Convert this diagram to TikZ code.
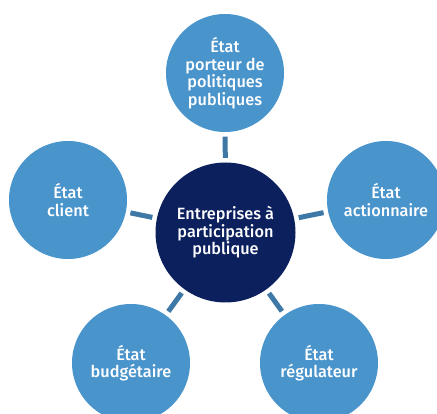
\documentclass[tikz,border=0pt]{standalone}
\usepackage{fontspec}
\setmainfont{Fira Sans Medium}
\definecolor{outerblue}{HTML}{4A94CC}
\definecolor{navy}{HTML}{0C205E}
\definecolor{connblue}{HTML}{3D78A6}
\begin{document}
\begin{tikzpicture}[x=1pt,y=-1pt,
  outer/.style={circle,fill=outerblue,minimum size=118pt,inner sep=0pt,text=white,align=center,font=\fontsize{16.3}{17.5}\selectfont},
  inner/.style={circle,fill=navy,minimum size=140pt,inner sep=0pt,text=white,align=center,font=\fontsize{16.3}{17.5}\selectfont},
  conn/.style={draw=connblue,line width=5pt,shorten <=4.5pt,shorten >=4.5pt}]
\useasboundingbox (0,0) rectangle (437,414);
\clip (0,0) rectangle (437,414);
\node[inner] (c) at (225.5,232.5) {Entreprises à\\participation\\publique};
\node[outer] (t) at (225,73) {État\\porteur de\\politiques\\publiques};
\node[outer] (l) at (68,200) {État\\client};
\node[outer] (r) at (386,200) {État\\actionnaire};
\node[outer] (bl) at (131,363) {État\\budgétaire};
\node[outer] (br) at (319,363) {État\\régulateur};
\draw[conn] (c) -- (t);
\draw[conn] (c) -- (l);
\draw[conn] (c) -- (r);
\draw[conn] (c) -- (bl);
\draw[conn] (c) -- (br);
\end{tikzpicture}
\end{document}
